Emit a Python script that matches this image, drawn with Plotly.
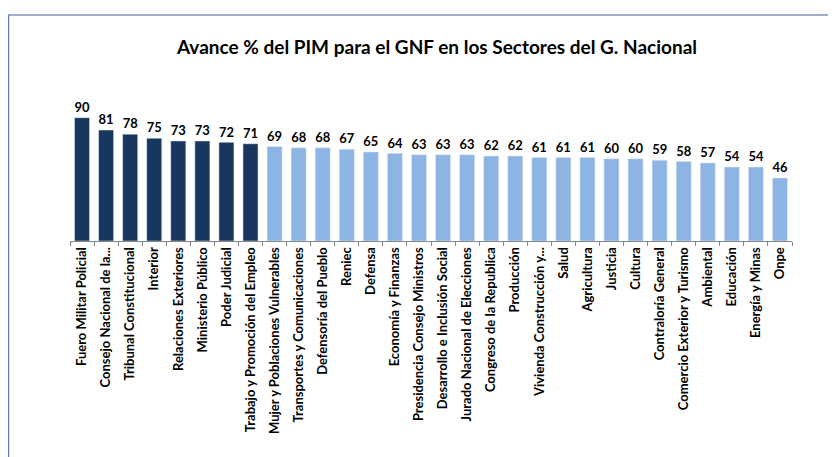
import plotly.graph_objects as go

categories = [
    "Fuero Militar Policial", "Consejo Nacional de la...", "Tribunal Constitucional",
    "Interior", "Relaciones Exteriores", "Ministerio Público", "Poder Judicial",
    "Trabajo y Promoción del Empleo", "Mujer y Poblaciones Vulnerables",
    "Transportes y Comunicaciones", "Defensoría del Pueblo", "Reniec", "Defensa",
    "Economía y Finanzas", "Presidencia Consejo Ministros", "Desarrollo e Inclusión Social",
    "Jurado Nacional de Elecciones", "Congreso de la Republica", "Producción",
    "Vivienda Construcción y...", "Salud", "Agricultura", "Justicia", "Cultura",
    "Contraloría General", "Comercio Exterior y Turismo", "Ambiental", "Educación",
    "Energía y Minas", "Onpe",
]
values = [90, 81, 78, 75, 73, 73, 72, 71, 69, 68, 68, 67, 65, 64, 63, 63, 63, 62, 62,
          61, 61, 61, 60, 60, 59, 58, 57, 54, 54, 46]
highlight = [True] * 8 + [False] * 22

DARK = "#17375E"
LIGHT = "#8DB4E2"
colors = [DARK if h else LIGHT for h in highlight]

FONT = "Lato"
W, H = 836, 457
OFF = 8  # page body margin shifts the figure by 8px
ML, MT = 70 - OFF, 104 - OFF
PW, PH = 722, 137
MR = W - ML - PW
MB = H - MT - PH

fig = go.Figure(go.Bar(
    x=categories, y=values, marker_color=colors,
    text=[str(v) for v in values], textposition="outside",
    textfont=dict(family=FONT, size=14, color="#000000", weight="bold"),
    cliponaxis=False,
))

def px_x(x):
    return (x - OFF - ML) / PW

def px_y(y):
    return (MT + PH - (y - OFF)) / PH

fig.update_layout(
    width=W, height=H,
    margin=dict(l=ML, r=MR, t=MT, b=MB),
    paper_bgcolor="white", plot_bgcolor="white",
    bargap=0.375,
    showlegend=False,
    title=dict(
        text="<b>Avance % del PIM para el GNF en los Sectores del G. Nacional</b>",
        x=(437 - OFF) / W, xref="container", xanchor="center",
        y=1 - (47 - OFF) / H, yref="container", yanchor="middle",
        font=dict(family=FONT, size=19, color="#000000"),
    ),
    xaxis=dict(
        type="category", tickangle=-90, showline=True, linecolor="#868686", linewidth=1,
        ticks="outside", ticklen=4, tickcolor="#868686", tickson="boundaries",
        tickfont=dict(family=FONT, size=13, color="#000000", weight="bold"),
        showgrid=False, automargin=False,
    ),
    yaxis=dict(range=[0, 100], visible=False, showgrid=False, zeroline=False),
    shapes=[
        # decorative frame of the original chart object
        dict(type="line", xref="paper", yref="paper",
             x0=px_x(8), x1=px_x(850), y0=px_y(15), y1=px_y(15),
             line=dict(color="#8096B8", width=1.5)),
        dict(type="line", xref="paper", yref="paper",
             x0=px_x(8.5), x1=px_x(8.5), y0=px_y(15), y1=px_y(470),
             line=dict(color="#5F7FAF", width=1.5)),
    ],
)

fig.write_html("out.html")
